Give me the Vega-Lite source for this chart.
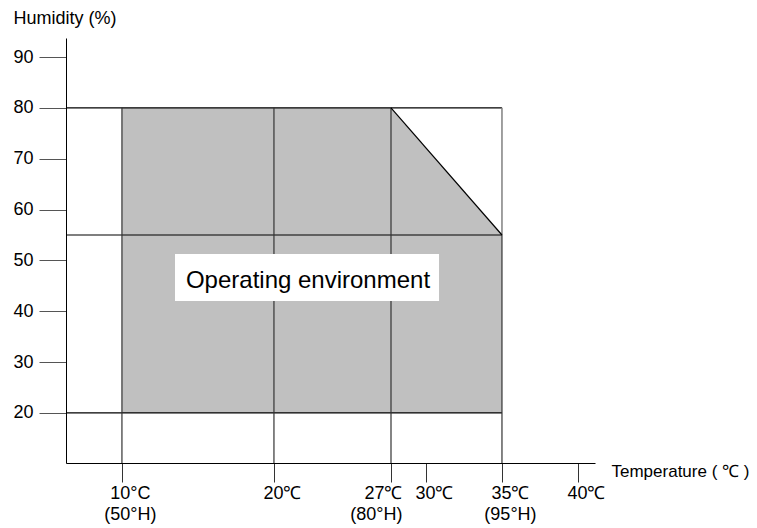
{
  "$schema": "https://vega.github.io/schema/vega-lite/v6.json",
  "autosize": {"type": "none"},
  "padding": {"left": 66, "top": 38, "right": 162, "bottom": 65},
  "width": 529,
  "height": 425,
  "background": "white",
  "config": {
    "view": {"stroke": null},
    "font": "Liberation Sans",
    "axis": {"labelFont": "Liberation Sans", "titleFont": "Liberation Sans", "labelColor": "black", "titleColor": "black", "titleFontWeight": "normal", "domainColor": "black", "grid": false}
  },
  "datasets": {
    "region": [
      {"t": 10, "top": 80, "bottom": 20},
      {"t": 27.7, "top": 80, "bottom": 20},
      {"t": 35, "top": 55, "bottom": 20}
    ],
    "hlines": [
      {"h": 80, "t0": 6.32, "t1": 35},
      {"h": 55, "t0": 6.32, "t1": 35},
      {"h": 20, "t0": 6.32, "t1": 35}
    ],
    "vlines": [
      {"t": 10, "h0": 80, "h1": 10.16},
      {"t": 20, "h0": 80, "h1": 10.16},
      {"t": 27.7, "h0": 80, "h1": 10.16},
      {"t": 35, "h0": 55, "h1": 10.16}
    ],
    "edge": [
      {"t": 35, "h0": 80, "h1": 55}
    ],
    "diag": [
      {"t": 27.7, "h": 80},
      {"t": 35, "h": 55}
    ],
    "label": [
      {"t0": 13.49, "t1": 30.86, "h0": 42.03, "h1": 51.28, "tc": 22.24, "hc": 44.6, "text": "Operating environment"}
    ]
  },
  "layer": [
    {
      "data": {"name": "region"},
      "mark": {"type": "area", "color": "#c0c0c0", "opacity": 1},
      "encoding": {
        "x": {
          "field": "t", "type": "quantitative",
          "scale": {"domain": [6.32, 41.12], "nice": false, "zero": false},
          "axis": {
            "values": [10, 20, 27.7, 30, 35, 40],
            "title": "Temperature ( ℃ )",
            "titleFontSize": 17,
            "titleAlign": "left",
            "titleBaseline": "middle",
            "titleX": 545,
            "titleY": 8,
            "tickSize": 19,
            "tickColor": "#333333",
            "labelFontSize": 18,
            "labelLineHeight": 21,
            "labelPadding": 2,
            "labelAlign": {"condition": {"test": "datum.value > 27 && datum.value < 28", "value": "right"}, "value": "center"},
            "labelOffset": {"condition": {"test": "datum.value > 27 && datum.value < 28", "value": 11}, "value": 8},
            "labelOverlap": false,
            "labelFlush": false,
            "labelExpr": "datum.value == 10 ? ['10°C', '(50°H)'] : datum.value == 20 ? '20℃' : datum.value < 29 ? ['27℃', '(80°H)'] : datum.value == 30 ? '30℃' : datum.value == 35 ? ['35℃', '(95°H)'] : '40℃'"
          }
        },
        "y": {
          "field": "top", "type": "quantitative",
          "scale": {"domain": [10.16, 93.74], "nice": false, "zero": false},
          "axis": {
            "values": [20, 30, 40, 50, 60, 70, 80, 90],
            "title": "Humidity (%)",
            "titleFontSize": 18,
            "titleAngle": 0,
            "titleAlign": "left",
            "titleBaseline": "middle",
            "titleX": -53,
            "titleY": -20,
            "tickSize": 27,
            "tickColor": "#555555",
            "labelFontSize": 18,
            "labelPadding": 6
          }
        },
        "y2": {"field": "bottom"}
      }
    },
    {
      "data": {"name": "hlines"},
      "mark": {"type": "rule", "color": "black", "strokeWidth": 1.2},
      "encoding": {
        "y": {"field": "h", "type": "quantitative"},
        "x": {"field": "t0", "type": "quantitative"},
        "x2": {"field": "t1"}
      }
    },
    {
      "data": {"name": "vlines"},
      "mark": {"type": "rule", "color": "#333333", "strokeWidth": 1.2},
      "encoding": {
        "x": {"field": "t", "type": "quantitative"},
        "y": {"field": "h0", "type": "quantitative"},
        "y2": {"field": "h1"}
      }
    },
    {
      "data": {"name": "edge"},
      "mark": {"type": "rule", "color": "#808080", "strokeWidth": 1.5},
      "encoding": {
        "x": {"field": "t", "type": "quantitative"},
        "y": {"field": "h0", "type": "quantitative"},
        "y2": {"field": "h1"}
      }
    },
    {
      "data": {"name": "diag"},
      "mark": {"type": "line", "color": "black", "strokeWidth": 1.2},
      "encoding": {
        "x": {"field": "t", "type": "quantitative"},
        "y": {"field": "h", "type": "quantitative"}
      }
    },
    {
      "data": {"name": "label"},
      "mark": {"type": "rect", "color": "white", "opacity": 1},
      "encoding": {
        "x": {"field": "t0", "type": "quantitative"},
        "x2": {"field": "t1"},
        "y": {"field": "h0", "type": "quantitative"},
        "y2": {"field": "h1"}
      }
    },
    {
      "data": {"name": "label"},
      "mark": {"type": "text", "fontSize": 24, "font": "Liberation Sans", "color": "black", "align": "center", "baseline": "alphabetic"},
      "encoding": {
        "x": {"field": "tc", "type": "quantitative"},
        "y": {"field": "hc", "type": "quantitative"},
        "text": {"field": "text"}
      }
    }
  ]
}
